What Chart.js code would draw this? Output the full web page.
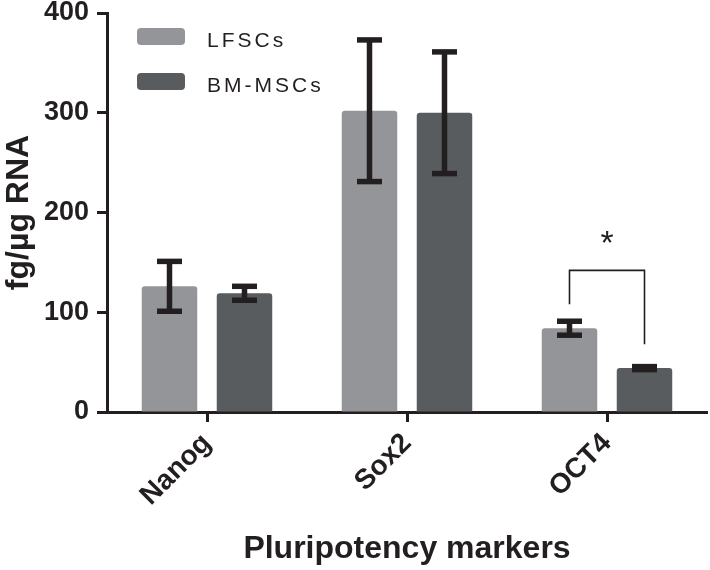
<!DOCTYPE html>
<html>
<head>
<meta charset="utf-8">
<script src="https://cdn.jsdelivr.net/npm/chart.js@4/dist/chart.umd.min.js"></script>
<style>
html,body{margin:0;padding:0;background:#fff;}
#c{display:block;}
</style>
</head>
<body>
<canvas id="c" width="710" height="570"></canvas>
<script>
// ---- data ----
const categories = ['Nanog', 'Sox2', 'OCT4'];
const seriesLabels = ['LFSCs', 'BM-MSCs'];
const lfscMeans = [126, 302, 84];
const lfscSD = [25, 71, 7];
const bmMeans = [119, 300, 44];
const bmSD = [7, 61, 1.5];
const yTicks = [0, 100, 200, 300, 400];
const sigCategory = 'OCT4';
const sigLabel = '*';
const sigTop = 142, sigLeftEnd = 108, sigRightEnd = 68, sigStar = 178;

const INK = '#231f20';
const FONT = "'Liberation Sans', Arial, Helvetica, sans-serif";

const errorBars = {
  id: 'errorBars',
  afterDatasetsDraw(chart) {
    const ctx = chart.ctx, y = chart.scales.y;
    ctx.save();
    ctx.strokeStyle = INK;
    ctx.fillStyle = INK;
    chart.data.datasets.forEach((ds, di) => {
      const meta = chart.getDatasetMeta(di);
      meta.data.forEach((bar, i) => {
        const m = ds.data[i], s = ds.sd[i];
        const yt = y.getPixelForValue(m + s), yb = y.getPixelForValue(m - s);
        ctx.lineWidth = 5.5;
        ctx.beginPath();
        ctx.moveTo(bar.x, yt); ctx.lineTo(bar.x, yb); ctx.stroke();
        const cw = 25, ct = 5.5;
        ctx.fillRect(bar.x - cw / 2, yt - ct / 2, cw, ct);
        ctx.fillRect(bar.x - cw / 2, yb - ct / 2, cw, ct);
      });
    });
    ctx.restore();
  }
};

const significance = {
  id: 'significance',
  afterDatasetsDraw(chart) {
    const ctx = chart.ctx, y = chart.scales.y;
    const idx = chart.data.labels.indexOf(sigCategory);
    const b0 = chart.getDatasetMeta(0).data[idx];
    const b1 = chart.getDatasetMeta(1).data[idx];
    const yt = y.getPixelForValue(sigTop);
    ctx.save();
    ctx.strokeStyle = INK;
    ctx.lineWidth = 1.6;
    ctx.beginPath();
    ctx.moveTo(b0.x, y.getPixelForValue(sigLeftEnd));
    ctx.lineTo(b0.x, yt);
    ctx.lineTo(b1.x, yt);
    ctx.lineTo(b1.x, y.getPixelForValue(sigRightEnd));
    ctx.stroke();
    const fs = 34;
    ctx.font = 'normal ' + fs + 'px ' + FONT;
    ctx.fillStyle = INK;
    ctx.textAlign = 'center';
    ctx.textBaseline = 'alphabetic';
    ctx.fillText(sigLabel, (b0.x + b1.x) / 2, y.getPixelForValue(sigStar) + 0.58 * fs);
    ctx.restore();
  }
};

const customLegend = {
  id: 'customLegend',
  afterDraw(chart) {
    const ctx = chart.ctx, a = chart.chartArea;
    ctx.save();
    chart.data.datasets.forEach((ds, i) => {
      const bx = a.left + 30, by = 28 + i * 45;
      ctx.fillStyle = ds.backgroundColor;
      ctx.beginPath();
      ctx.roundRect(bx, by, 48, 17, 4);
      ctx.fill();
      ctx.fillStyle = INK;
      ctx.font = 'normal 21px ' + FONT;
      ctx.letterSpacing = '3px';
      ctx.textAlign = 'left';
      ctx.textBaseline = 'middle';
      ctx.fillText(ds.label, a.left + 100, by + 13);
    });
    ctx.restore();
  }
};

new Chart(document.getElementById('c'), {
  type: 'bar',
  data: {
    labels: categories,
    datasets: [
      { label: seriesLabels[0], data: lfscMeans, sd: lfscSD, backgroundColor: '#939598' },
      { label: seriesLabels[1], data: bmMeans, sd: bmSD, backgroundColor: '#585c5f' }
    ]
  },
  options: {
    responsive: false,
    animation: false,
    devicePixelRatio: 1,
    layout: { padding: { top: 13, right: 3, left: 0, bottom: 0 } },
    datasets: {
      bar: {
        categoryPercentage: 0.75,
        barPercentage: 0.74,
        borderRadius: { topLeft: 3, topRight: 3, bottomLeft: 0, bottomRight: 0 },
        borderSkipped: false
      }
    },
    plugins: { legend: { display: false }, tooltip: { enabled: false } },
    scales: {
      x: {
        offset: true,
        grid: { drawOnChartArea: false, drawTicks: true, tickLength: 10, tickWidth: 3, tickColor: INK, color: INK, offset: false },
        border: { display: true, width: 3, color: INK },
        ticks: { color: INK, font: { family: FONT, size: 28, weight: 'bold' }, maxRotation: 45, minRotation: 45, padding: 5 },
        title: { display: true, text: 'Pluripotency markers', color: INK, font: { family: FONT, size: 32, weight: 'bold' }, padding: { top: 0, bottom: 2 } },
        afterFit(s) { s.height = 158; s.paddingLeft = 0; s.paddingRight = 0; }
      },
      y: {
        min: 0, max: 400,
        afterBuildTicks(s) { s.ticks = yTicks.map(v => ({ value: v })); },
        grid: { drawOnChartArea: false, drawTicks: true, tickLength: 10, tickWidth: 3, tickColor: INK, color: INK },
        border: { display: true, width: 3, color: INK },
        ticks: { color: INK, font: { family: FONT, size: 27, weight: 'bold' }, padding: 8 },
        title: { display: true, text: 'fg/µg RNA', color: INK, font: { family: FONT, size: 32, weight: 'bold' }, padding: { top: 0, bottom: 0 } },
        afterFit(s) { s.width = 107; s.paddingTop = 0; s.paddingBottom = 0; }
      }
    }
  },
  plugins: [errorBars, significance, customLegend]
});
</script>
</body>
</html>
